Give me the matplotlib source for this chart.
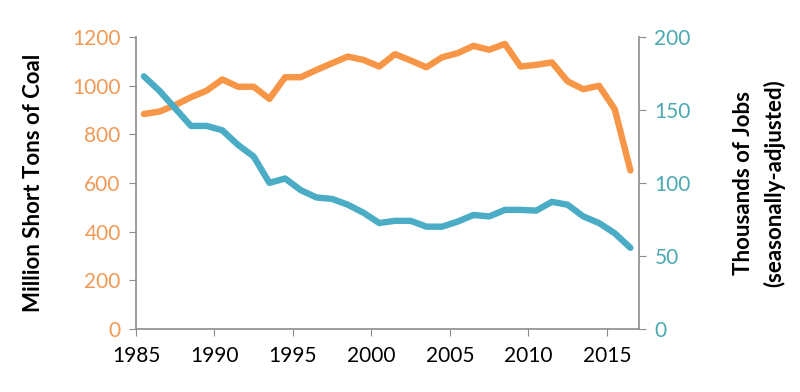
import matplotlib.pyplot as plt

# US coal production and coal mining jobs, 1985-2016
years = list(range(1985, 2017))
coal_tons = [883, 893, 920, 952, 979, 1025, 995, 995, 945, 1034,
             1034, 1064, 1092, 1119, 1105, 1078, 1129, 1103, 1075, 1116,
             1133, 1163, 1147, 1171, 1078, 1085, 1095, 1017, 985, 999,
             903, 651]
coal_jobs = [173, 163, 151, 139, 139, 136, 126, 118, 100, 103,
             95, 90, 89, 85, 79.5, 72.5, 74, 74, 70, 70,
             73.5, 78, 77, 81.5, 81.5, 81, 87, 85, 77, 72.5,
             65.5, 55.5]
year_labels = ['1985', '1990', '1995', '2000', '2005', '2010', '2015']
left_ticks = [0, 200, 400, 600, 800, 1000, 1200]
right_ticks = [0, 50, 100, 150, 200]

orange = '#F79646'
teal = '#4BACC6'
tick_orange = '#F29A55'
tick_teal = '#4AA8B0'
grey = '#8C8C8C'

plt.rcParams['font.family'] = ['Lato', 'DejaVu Sans']

fig = plt.figure(figsize=(8, 3.92), dpi=100)
ax = fig.add_axes([0.170, 0.161, 0.629, 0.745])
ax2 = ax.twinx()

# Lines
ax.plot(years, coal_tons, color=orange, lw=4.6, solid_capstyle='round',
        solid_joinstyle='round', zorder=3)
ax2.plot(years, coal_jobs, color=teal, lw=4.6, solid_capstyle='round',
         solid_joinstyle='round', zorder=3)

# Axis ranges
ax.set_xlim(1984.5, 2016.56)
ax.set_ylim(0, 1200)
ax2.set_ylim(0, 200)

# Left axis
ax.set_yticks(left_ticks)
ax.set_yticklabels([str(t) for t in left_ticks], color=tick_orange, fontsize=15)
ax.set_ylabel('Million Short Tons of Coal', fontsize=16, fontweight='bold', labelpad=20)

# Right axis
ax2.set_yticks(right_ticks)
ax2.set_yticklabels([str(t) for t in right_ticks], color=tick_teal, fontsize=15)
ax2.set_ylabel('Thousands of Jobs\n(seasonally-adjusted)', fontsize=16,
               fontweight='bold', labelpad=30, linespacing=1.55)

# Bottom axis: ticks between categories
tick_pos = [int(y) - 0.5 for y in year_labels]
ax.set_xticks(tick_pos)
ax.set_xticklabels(year_labels, fontsize=15)
ax.tick_params(axis='x', length=5, color=grey, pad=7)

for a in (ax, ax2):
    a.spines['top'].set_visible(False)
    for s in ('left', 'right', 'bottom'):
        a.spines[s].set_color(grey)
        a.spines[s].set_linewidth(1.2)
ax.spines['right'].set_visible(False)
ax2.spines['left'].set_visible(False)
ax2.spines['bottom'].set_visible(False)

ax.tick_params(axis='y', length=5, color=grey, pad=6)
ax2.tick_params(axis='y', length=5, color=grey, pad=6)

fig.savefig('out.png', dpi=100)
